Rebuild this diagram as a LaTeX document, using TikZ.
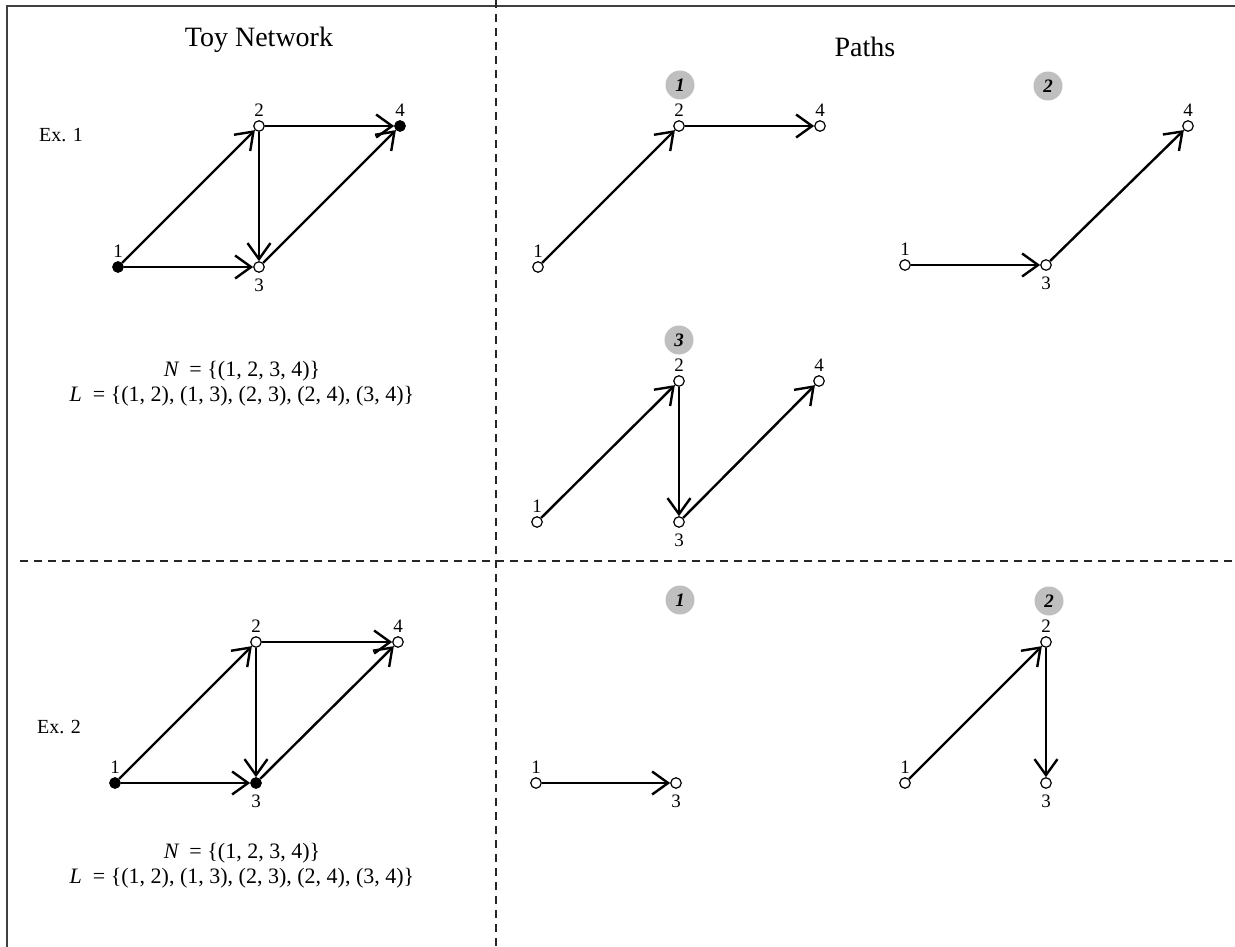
\documentclass[tikz,border=0pt]{standalone}
\usepackage{fontspec}
\setmainfont{Liberation Serif}
\usetikzlibrary{arrows.meta}

% vertex with its number label: name, style, position, label side, text
\newcommand\vx[5]{%
  \node[#2] (#1) at (#3) {};
  \node[#4lab] (#1-l) at (#1) {#5};}

\tikzset{
  frameline/.style={line width=2pt, black!75},
  divider/.style={line width=2pt, black!85, dash pattern=on 8pt off 6pt},
  vtx/.style={circle, draw, line width=1.2pt, fill=white, minimum size=10.5pt, inner sep=0pt},
  vtxf/.style={vtx, fill=black},
  abovelab/.style={anchor=south, inner sep=0pt, yshift=9.5pt, font=\fontsize{19}{21}\selectfont},
  belowlab/.style={anchor=north, inner sep=0pt, yshift=-11.5pt, font=\fontsize{19}{21}\selectfont},
  edge/.style={line width=2.4pt, -{Straight Barb[length=16pt, width=23pt]}},
  badge/.style={circle, fill=black!25, minimum size=29pt, inner sep=0pt,
    font=\fontsize{19}{21}\selectfont\bfseries\itshape},
  title/.style={font=\fontsize{28}{32}\selectfont},
  exlab/.style={font=\fontsize{20}{22}\selectfont},
  sets/.style={align=center, font=\fontsize{22}{25}\selectfont},
}

\begin{document}
\begin{tikzpicture}[x=1pt, y=-1pt]
\useasboundingbox (0,0) rectangle (1235,947);

% table frame and dashed cell dividers
\draw[frameline] (7,947) -- (7,6) -- (1235,6);
\draw[divider] (496,0) -- (496,947);
\draw[divider] (20,561) -- (1235,561);

% column titles
\node[title] (ttoy) at (259,40) {Toy Network};
\node[title] (tpaths) at (865,47) {Paths};

% ---------- Example 1: network ----------
\node[exlab] (ex1) at (61,135) {Ex. 1};
\vx{a1}{vtxf}{118,267}{above}{1}
\vx{a2}{vtx}{259,126}{above}{2}
\vx{a3}{vtx}{259,267}{below}{3}
\vx{a4}{vtxf}{400,126}{above}{4}
\draw[edge] (a1) -- (a2);
\draw[edge] (a1) -- (a3);
\draw[edge] (a2) -- (a3);
\draw[edge] (a2) -- (a4);
\draw[edge] (a3) -- (a4);
\node[sets] (sets1) at (242,384)
  {{\itshape N}\ \ = \{(1, 2, 3, 4)\}\\ {\itshape L}\ \ = \{(1, 2), (1, 3), (2, 3), (2, 4), (3, 4)\}};

% ---------- Example 1: paths ----------
\node[badge] (pb1) at (680,85) {1};
\vx{b1}{vtx}{538,267}{above}{1}
\vx{b2}{vtx}{679,126}{above}{2}
\vx{b4}{vtx}{820,126}{above}{4}
\draw[edge] (b1) -- (b2);
\draw[edge] (b2) -- (b4);

\node[badge] (pb2) at (1048,86) {2};
\vx{c1}{vtx}{905,265}{above}{1}
\vx{c3}{vtx}{1046,265}{below}{3}
\vx{c4}{vtx}{1188,126}{above}{4}
\draw[edge] (c1) -- (c3);
\draw[edge] (c3) -- (c4);

\node[badge] (pb3) at (679,340) {3};
\vx{d1}{vtx}{537,522}{above}{1}
\vx{d2}{vtx}{679,381}{above}{2}
\vx{d3}{vtx}{679,522}{below}{3}
\vx{d4}{vtx}{819,381}{above}{4}
\draw[edge] (d1) -- (d2);
\draw[edge] (d2) -- (d3);
\draw[edge] (d3) -- (d4);

% ---------- Example 2: network ----------
\node[exlab] (ex2) at (59,727) {Ex. 2};
\vx{e1}{vtxf}{115,783}{above}{1}
\vx{e2}{vtx}{256,642}{above}{2}
\vx{e3}{vtxf}{256,783}{below}{3}
\vx{e4}{vtx}{398,642}{above}{4}
\draw[edge] (e1) -- (e2);
\draw[edge] (e1) -- (e3);
\draw[edge] (e2) -- (e3);
\draw[edge] (e2) -- (e4);
\draw[edge] (e3) -- (e4);
\node[sets] (sets2) at (242,866)
  {{\itshape N}\ \ = \{(1, 2, 3, 4)\}\\ {\itshape L}\ \ = \{(1, 2), (1, 3), (2, 3), (2, 4), (3, 4)\}};

% ---------- Example 2: paths ----------
\node[badge] (qb1) at (680,600) {1};
\vx{f1}{vtx}{536,783}{above}{1}
\vx{f3}{vtx}{676,783}{below}{3}
\draw[edge] (f1) -- (f3);

\node[badge] (qb2) at (1049,601) {2};
\vx{g1}{vtx}{905,783}{above}{1}
\vx{g2}{vtx}{1046,642}{above}{2}
\vx{g3}{vtx}{1046,783}{below}{3}
\draw[edge] (g1) -- (g2);
\draw[edge] (g2) -- (g3);
\end{tikzpicture}
\end{document}
